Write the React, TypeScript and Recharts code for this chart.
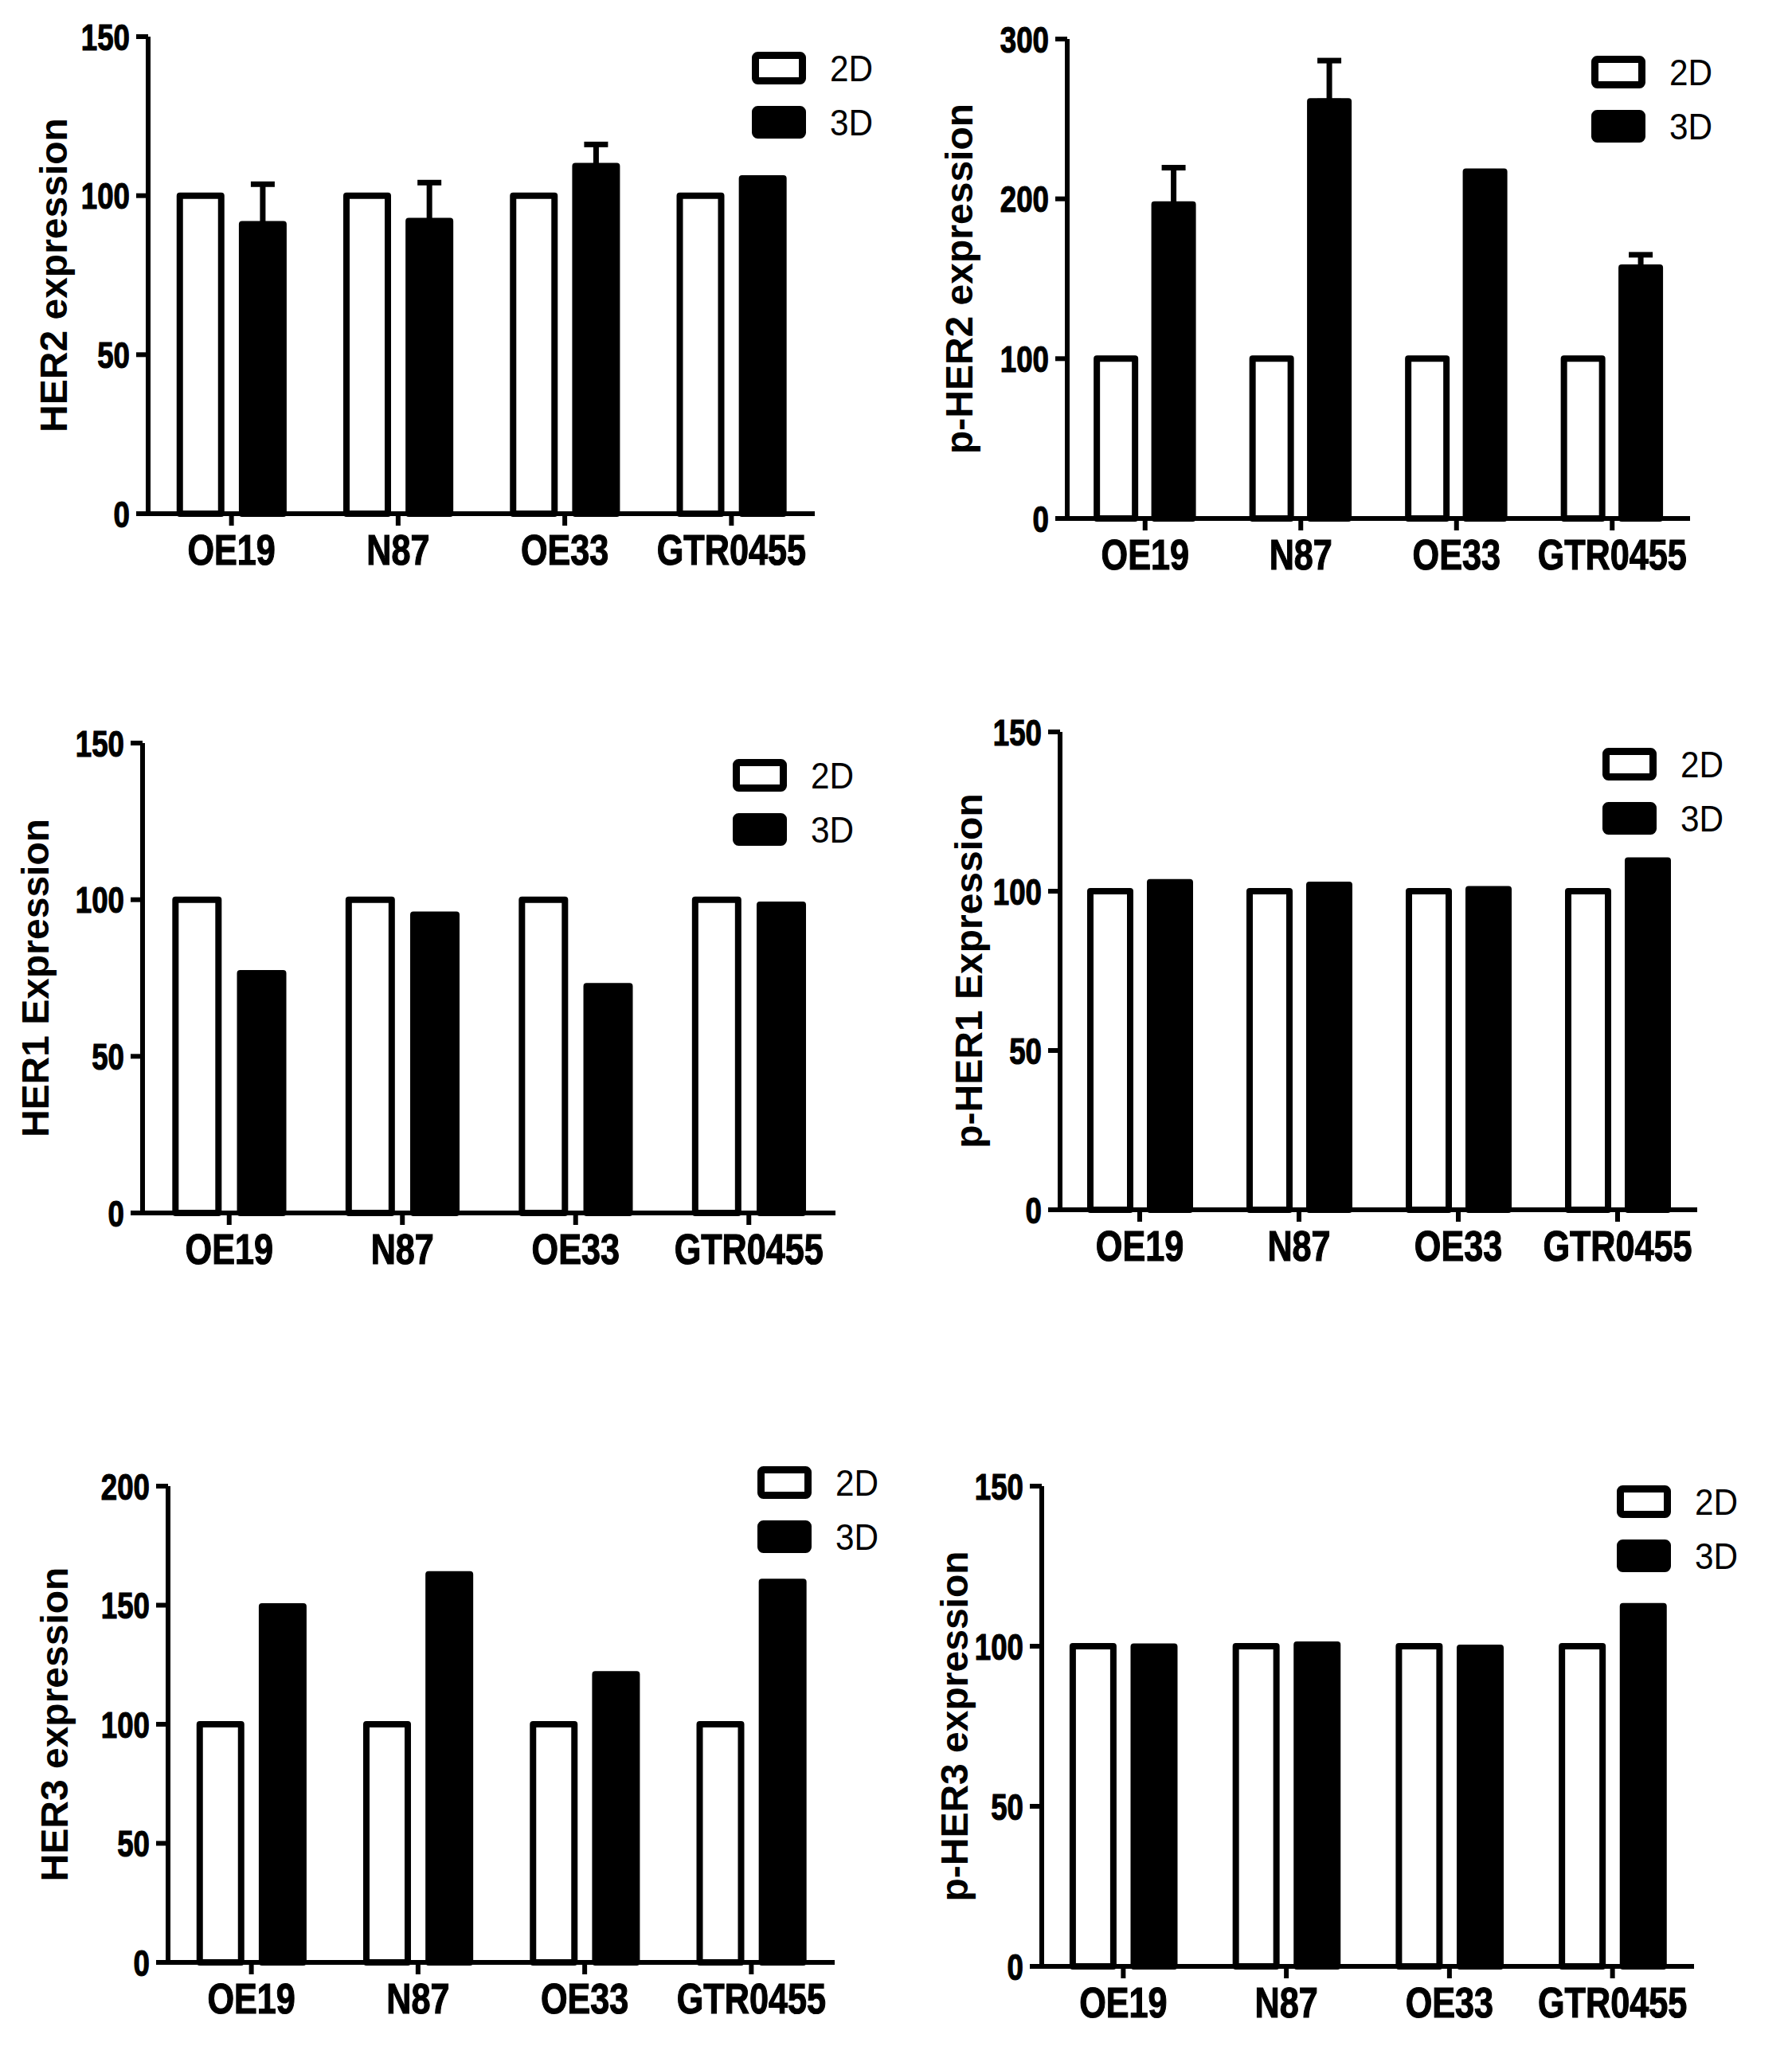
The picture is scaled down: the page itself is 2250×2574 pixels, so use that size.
import React from 'react';
import { BarChart, Bar, XAxis, YAxis, ErrorBar, Legend } from 'recharts';

// cell lines on every x axis
const CELL_LINES = ['OE19', 'N87', 'OE33', 'GTR0455'];

// values (2D is the 100% reference)
const HER2_2D = [100, 100, 100, 100];
const HER2_3D = [91, 92, 109.3, 105.4];
const HER2_3D_SEM = [12.6, 12.1, 6.8, null];

const PHER2_2D = [100, 100, 100, 100];
const PHER2_3D = [196.5, 261, 217, 157];
const PHER2_3D_SEM = [23, 25.5, null, 8];

const HER1_2D = [100, 100, 100, 100];
const HER1_3D = [76.5, 95.2, 72.4, 98.4];

const PHER1_2D = [100, 100, 100, 100];
const PHER1_3D = [102.8, 102, 100.6, 109.6];

const HER3_2D = [100, 100, 100, 100];
const HER3_3D = [149.5, 163, 121, 159.8];

const PHER3_2D = [100, 100, 100, 100];
const PHER3_3D = [99.9, 100.5, 99.5, 112.5];

const TICKS_150 = [0, 50, 100, 150];
const TICKS_200 = [0, 50, 100, 150, 200];
const TICKS_300 = [0, 100, 200, 300];

const FONT = "'Liberation Sans', Arial, sans-serif";

const PAD_L = 170;
const PAD_T = 40;
const PAD_R = 125;
const PAD_B = 100;

type PanelDef = {
  title: string;
  d2: number[];
  d3: number[];
  sem?: (number | null)[];
  ticks: number[];
  plot: [number, number, number, number]; // x0, top, x1, zero line
  titleX: number;
  legend: [number, number];
};

const panels: PanelDef[] = [
  { title: 'HER2 expression', d2: HER2_2D, d3: HER2_3D, sem: HER2_3D_SEM, ticks: TICKS_150, plot: [186, 46, 1023, 645], titleX: 67, legend: [944, 65] },
  { title: 'p-HER2 expression', d2: PHER2_2D, d3: PHER2_3D, sem: PHER2_3D_SEM, ticks: TICKS_300, plot: [1340, 49, 2122, 651], titleX: 1204, legend: [1998, 70] },
  { title: 'HER1 Expression', d2: HER1_2D, d3: HER1_3D, ticks: TICKS_150, plot: [179, 933, 1049, 1523], titleX: 44, legend: [920, 953] },
  { title: 'p-HER1 Expression', d2: PHER1_2D, d3: PHER1_3D, ticks: TICKS_150, plot: [1331, 919, 2131, 1519], titleX: 1216, legend: [2012, 939] },
  { title: 'HER3 expression', d2: HER3_2D, d3: HER3_3D, ticks: TICKS_200, plot: [211, 1866, 1048, 2464], titleX: 68, legend: [951, 1841] },
  { title: 'p-HER3 expression', d2: PHER3_2D, d3: PHER3_3D, ticks: TICKS_150, plot: [1308, 1866, 2127, 2469], titleX: 1198, legend: [2030, 1865] },
];

// no narrow face is installed, so the regular bold one is squeezed
const XTick = (props: any) => {
  const { x, y, payload } = props;
  return (
    <g transform={`translate(${x},${y})`}>
      <text transform="scale(0.8,1)" textAnchor="middle" dy="0.71em" fontSize={54} fontWeight={700} fontFamily={FONT} fill="#000" stroke="#000" strokeWidth={1.2}>
        {payload.value}
      </text>
    </g>
  );
};

const YTick = (props: any) => {
  const { x, y, payload } = props;
  return (
    <g transform={`translate(${x},${y})`}>
      <text transform="scale(0.78,1)" textAnchor="end" dy="0.355em" fontSize={47} fontWeight={700} fontFamily={FONT} fill="#000" stroke="#000" strokeWidth={1.2}>
        {payload.value}
      </text>
    </g>
  );
};

const legendContent = (props: any) => {
  const items = props.payload || [];
  return (
    <svg width={240} height={150} style={{ display: 'block', overflow: 'visible' }}>
      {items.map((entry: any, i: number) => {
        const y = 4.5 + i * 68;
        const filled = entry.value === '3D';
        return (
          <g key={entry.value}>
            <rect x={4.5} y={y} width={59} height={32} rx={3} fill={filled ? '#000' : '#fff'} stroke="#000" strokeWidth={9} strokeLinejoin="round" />
            <g transform={`translate(98,${y + 32.5})`}>
              <text transform="scale(0.92,1)" fontSize={46} fontFamily={FONT} fill="#000">
                {entry.value}
              </text>
            </g>
          </g>
        );
      })}
    </svg>
  );
};

const Panel = ({ p }: { p: PanelDef }) => {
  const [x0, y0, x1, y1] = p.plot;
  const left = x0 - PAD_L;
  const top = y0 - PAD_T;
  const w = x1 - x0 + PAD_L + PAD_R;
  const h = y1 - y0 + PAD_T + PAD_B;
  const rows = CELL_LINES.map((name, i) => ({
    name,
    d2: p.d2[i],
    d3: p.d3[i],
    err: p.sem && p.sem[i] != null ? [0, p.sem[i]] : null,
  }));
  const axisLine = { stroke: '#000', strokeWidth: 6 };

  return (
    <div style={{ position: 'absolute', left, top, width: w, height: h }}>
      <BarChart
        width={w}
        height={h}
        data={rows}
        margin={{ top: PAD_T, right: PAD_R, bottom: 0, left: 0 }}
        barCategoryGap="19%"
        barGap="12.5%"
      >
        <XAxis
          dataKey="name"
          height={PAD_B}
          interval={0}
          axisLine={axisLine}
          tickLine={axisLine}
          tickSize={15}
          tickMargin={11}
          tick={<XTick />}
        />
        <YAxis
          width={PAD_L}
          domain={[0, p.ticks[p.ticks.length - 1]]}
          ticks={p.ticks}
          interval={0}
          axisLine={axisLine}
          tickLine={axisLine}
          tickSize={15}
          tickMargin={8}
          tick={<YTick />}
          label={{
            value: p.title,
            angle: -90,
            position: 'insideLeft',
            offset: p.titleX - left,
            style: { textAnchor: 'middle', fill: '#000', fontSize: 48, fontWeight: 700, fontFamily: FONT },
          }}
        />
        <Legend
          layout="vertical"
          align="center"
          verticalAlign="middle"
          width={240}
          height={150}
          wrapperStyle={{ left: p.legend[0] - left, top: p.legend[1] - top }}
          content={legendContent}
        />
        <Bar dataKey="d2" name="2D" fill="#fff" stroke="#000" strokeWidth={8} strokeLinejoin="round" isAnimationActive={false} />
        <Bar dataKey="d3" name="3D" fill="#000" stroke="#000" strokeWidth={8} strokeLinejoin="round" isAnimationActive={false}>
          {p.sem && <ErrorBar dataKey="err" direction="y" width={15} stroke="#000" strokeWidth={7} isAnimationActive={false} />}
        </Bar>
      </BarChart>
    </div>
  );
};

const App = () => (
  <div style={{ position: 'absolute', left: 0, top: 0, width: 2250, height: 2574, background: '#fff' }}>
    {panels.map((p) => (
      <Panel key={p.title} p={p} />
    ))}
  </div>
);

export default App;
